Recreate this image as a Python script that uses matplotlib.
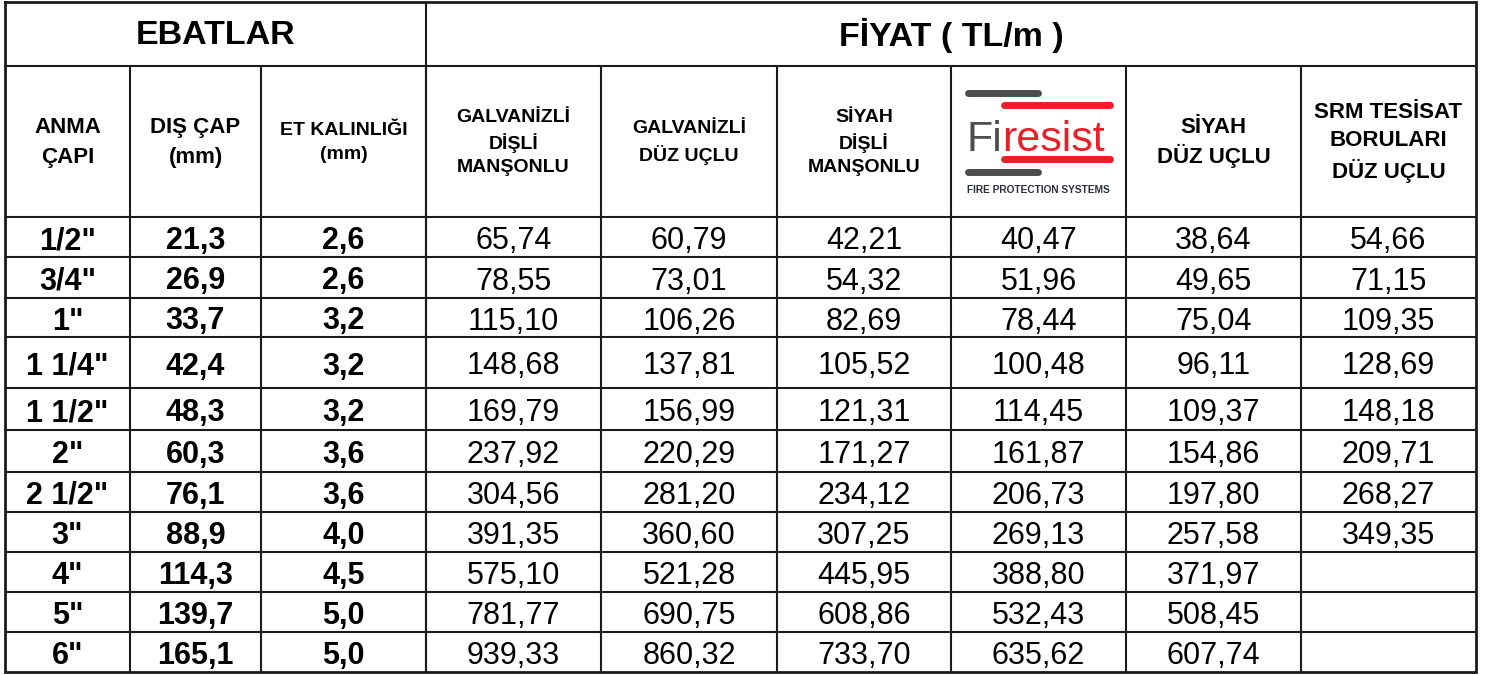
import matplotlib
matplotlib.use("Agg")
import matplotlib.pyplot as plt

plt.rcParams["font.family"] = ["Liberation Sans", "DejaVu Sans"]

# Table data (values as printed, Turkish decimal comma)
anma_capi = ['1/2"', '3/4"', '1"', '1 1/4"', '1 1/2"', '2"', '2 1/2"', '3"',
             '4"', '5"', '6"']
dis_cap = ["21,3", "26,9", "33,7", "42,4", "48,3", "60,3", "76,1", "88,9",
           "114,3", "139,7", "165,1"]
et_kalinligi = ["2,6", "2,6", "3,2", "3,2", "3,2", "3,6", "3,6", "4,0", "4,5",
                "5,0", "5,0"]

galvanizli_disli = [65.74, 78.55, 115.10, 148.68, 169.79, 237.92, 304.56,
                    391.35, 575.10, 781.77, 939.33]
galvanizli_duz = [60.79, 73.01, 106.26, 137.81, 156.99, 220.29, 281.20,
                  360.60, 521.28, 690.75, 860.32]
siyah_disli = [42.21, 54.32, 82.69, 105.52, 121.31, 171.27, 234.12, 307.25,
               445.95, 608.86, 733.70]
firesist = [40.47, 51.96, 78.44, 100.48, 114.45, 161.87, 206.73, 269.13,
            388.80, 532.43, 635.62]
siyah_duz = [38.64, 49.65, 75.04, 96.11, 109.37, 154.86, 197.80, 257.58,
             371.97, 508.45, 607.74]
srm_tesisat = [54.66, 71.15, 109.35, 128.69, 148.18, 209.71, 268.27, 349.35,
               None, None, None]

col_headers = ["ANMA\nÇAPI", "DIŞ ÇAP\n(mm)", "ET KALINLIĞI\n(mm)",
               "GALVANİZLİ\nDİŞLİ\nMANŞONLU", "GALVANİZLİ\nDÜZ UÇLU",
               "SİYAH\nDİŞLİ\nMANŞONLU", None, "SİYAH\nDÜZ UÇLU",
               "SRM TESİSAT\nBORULARI\nDÜZ UÇLU"]

# Layout in pixel units (figure is 1493 x 675)
col_edges = [5, 130, 261, 426, 601, 777, 951, 1126, 1301, 1476]
row_edges = [217, 257, 298, 337, 388, 430, 472, 512, 552, 592, 632, 672]
top, head1, head2 = 2, 66, 217
line_color = "#1c1c1c"
header_size = [16, 16, 14, 14, 14, 14, None, 16, 16]
header_spacing = [1.6, 1.6, 1.6, 1.45, 1.45, 1.45, None, 1.3, 1.45]


def fmt(v):
    if v is None:
        return ""
    return f"{v:.2f}".replace(".", ",")


def main():
    fig = plt.figure(figsize=(14.93, 6.75), dpi=100)
    ax = fig.add_axes([0, 0, 1, 1])
    ax.set_xlim(0, 1493)
    ax.set_ylim(675, 0)
    ax.axis("off")

    left, right, bottom = col_edges[0], col_edges[-1], row_edges[-1]

    # grid lines
    ax.hlines([head1] + row_edges[:-1], left, right, color=line_color, lw=1.5)
    ax.vlines(col_edges[1:-1], head1, bottom, color=line_color, lw=1.5)
    ax.vlines(col_edges[3], top, bottom, color=line_color, lw=1.5)
    ax.plot([left, right, right, left, left], [top, top, bottom, bottom, top],
            color=line_color, lw=2.0, solid_joinstyle="miter")

    # top header row
    ax.text((left + col_edges[3]) / 2, (top + head1) / 2 + 1, "EBATLAR",
            ha="center", va="center", fontsize=24.5, fontweight="bold")
    ax.text((col_edges[3] + right) / 2, (top + head1) / 2 + 1, "FİYAT ( TL/m )",
            ha="center", va="center", fontsize=24.5, fontweight="bold")

    # column headers
    for i, label in enumerate(col_headers):
        if label is None:
            continue
        cx = (col_edges[i] + col_edges[i + 1]) / 2
        ax.text(cx, (head1 + head2) / 2 + 1, label, ha="center", va="center",
                fontsize=header_size[i], fontweight="bold",
                linespacing=header_spacing[i])

    # Firesist logo cell (drawn with lines + text)
    gray, red = "#4d4d4f", "#e8202a"
    ax.plot([968, 1038], [92.5, 92.5], color=gray, lw=5, solid_capstyle="round")
    ax.plot([968, 1038], [171.5, 171.5], color=gray, lw=5,
            solid_capstyle="round")
    ax.plot([1004, 1110], [105, 105], color=red, lw=5, solid_capstyle="round")
    ax.plot([1004, 1110], [158.5, 158.5], color=red, lw=5,
            solid_capstyle="round")
    ax.text(966, 151, "Fi", ha="left", va="baseline", fontsize=31, color=gray)
    ax.text(1002, 151, "resist", ha="left", va="baseline", fontsize=31,
            color=red)
    ax.text(1038, 190, "FIRE PROTECTION SYSTEMS", ha="center", va="center",
            fontsize=7.3, fontweight="bold", color="#2b2f3a")

    # body rows
    bold_cols = [anma_capi, dis_cap, et_kalinligi]
    price_cols = [galvanizli_disli, galvanizli_duz, siyah_disli, firesist,
                  siyah_duz, srm_tesisat]
    for r in range(len(anma_capi)):
        cy = (row_edges[r] + row_edges[r + 1]) / 2 + 4
        for c, col in enumerate(bold_cols):
            cx = (col_edges[c] + col_edges[c + 1]) / 2
            ax.text(cx, cy, col[r], ha="center", va="center", fontsize=22,
                    fontweight="bold")
        for k, col in enumerate(price_cols):
            c = k + 3
            cx = (col_edges[c] + col_edges[c + 1]) / 2
            ax.text(cx, cy, fmt(col[r]), ha="center", va="center", fontsize=22)

    fig.savefig("out.png", dpi=100)


if __name__ == "__main__":
    main()
